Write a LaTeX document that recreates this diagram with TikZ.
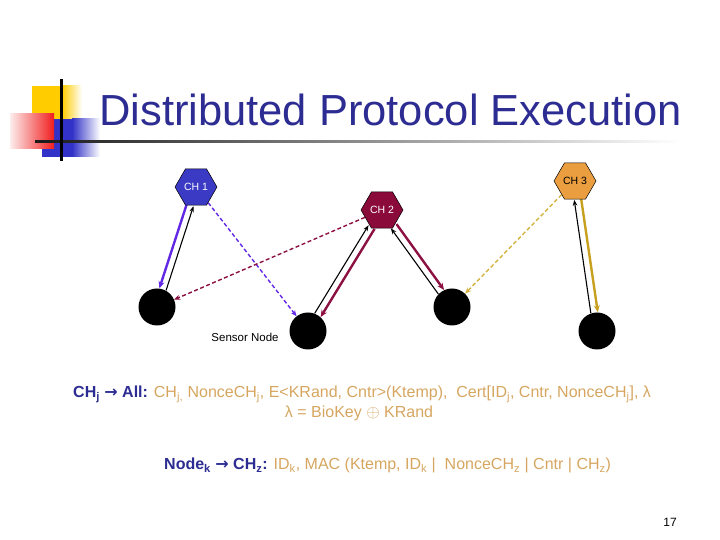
\documentclass[tikz,border=0pt]{standalone}
\usepackage{fontspec}
\setmainfont{Liberation Sans}
\newfontfamily\arrowfont{DejaVu Sans}
\usetikzlibrary{arrows.meta,shapes.geometric,calc}
\definecolor{titleblue}{RGB}{44,44,146}
\definecolor{goldtext}{RGB}{214,166,96}
\definecolor{chone}{RGB}{58,58,196}
\definecolor{chtwo}{RGB}{138,10,58}
\definecolor{chthree}{RGB}{234,158,64}
\definecolor{violetline}{RGB}{98,40,228}
\definecolor{maroonline}{RGB}{140,16,66}
\definecolor{goldline}{RGB}{200,160,32}
\definecolor{goldlight}{RGB}{212,178,64}
\definecolor{logoyellow}{RGB}{255,204,0}
\definecolor{logoblue}{RGB}{50,50,200}
\definecolor{logored}{RGB}{240,30,30}
\newcommand\bigarrow{{\arrowfont\bfseries →}}
\pgfdeclarelayer{bg}
\pgfsetlayers{bg,main}
\begin{document}
\begin{tikzpicture}[x=1pt,y=1pt,
  hexnode/.style={regular polygon, regular polygon sides=6, minimum size=42pt, inner sep=0pt,
    draw=black, line width=0.5pt, font=\fontsize{10.5}{12}\selectfont},
  sensor/.style={circle, fill=black, minimum size=37pt, inner sep=0pt},
  thickarrow/.style={line width=2.4pt, -{Stealth[length=7pt,width=6pt]}},
  thinarrow/.style={line width=1.1pt, black, -{Stealth[length=6pt,width=4.5pt]}},
  dasharrow/.style={line width=1.4pt, dash pattern=on 4pt off 2.5pt, -{Stealth[length=6pt,width=5pt]}},
  bodytext/.style={inner sep=0pt, font=\fontsize{16}{19}\selectfont},
]
\useasboundingbox (0,0) rectangle (720,540);

% logo
\fill[logoyellow] (32,421) rectangle (62,454);
\shade[left color=logoyellow, right color=white] (62,421) rectangle (82,454);
\fill[logoblue] (42,383) rectangle (72,421);
\shade[left color=logoblue, right color=white] (72,383) rectangle (100,421);
\shade[left color=logored!8, right color=logored] (10,391) rectangle (54,426);
\shade[left color=black!90, right color=white] (35,397) rectangle (680,399.5);
\fill[black] (60,379) rectangle (62.5,461);

% title
\node[anchor=base west, inner sep=0pt, text=titleblue, font=\fontsize{43.5}{50}\selectfont]
  (title) at (99,414) {Distributed Protocol Execution};

% cluster heads and sensor nodes
\node[hexnode, fill=chone, text=white] (CH1) at (196,353) {CH 1};
\node[hexnode, fill=chtwo, text=white] (CH2) at (382,330) {CH 2};
\node[hexnode, fill=chthree, text=black] (CH3) at (575,359) {CH 3};
\node[sensor] (S1) at (157,233) {};
\node[sensor] (S2) at (308,209) {};
\node[sensor] (S3) at (452,233) {};
\node[sensor] (S4) at (597,209) {};
\node[inner sep=0pt, font=\fontsize{11.5}{13}\selectfont] (lab) at (245,203) {Sensor Node};

\begin{pgfonlayer}{bg}
% CH1 <-> S1
\draw[thickarrow, violetline, shorten <=19pt, shorten >=18.5pt]
  ($(CH1)!3.5pt!-90:(S1)$) -- ($(S1)!3.5pt!90:(CH1)$);
\draw[thinarrow, shorten <=18.5pt, shorten >=19pt]
  ($(S1)!3.5pt!-90:(CH1)$) -- ($(CH1)!3.5pt!90:(S1)$);
% CH2 <-> S2
\draw[thickarrow, maroonline, shorten <=20pt, shorten >=18.5pt]
  ($(CH2)!3.5pt!90:(S2)$) -- ($(S2)!3.5pt!-90:(CH2)$);
\draw[thinarrow, shorten <=18.5pt, shorten >=20pt]
  ($(S2)!3.5pt!90:(CH2)$) -- ($(CH2)!3.5pt!-90:(S2)$);
% CH2 <-> S3
\draw[thickarrow, maroonline, shorten <=20pt, shorten >=18.5pt]
  ($(CH2)!3.5pt!90:(S3)$) -- ($(S3)!3.5pt!-90:(CH2)$);
\draw[thinarrow, shorten <=18.5pt, shorten >=20pt]
  ($(S3)!3.5pt!90:(CH2)$) -- ($(CH2)!3.5pt!-90:(S3)$);
% CH3 <-> S4
\draw[thickarrow, goldline, shorten <=18.5pt, shorten >=18.5pt]
  ($(CH3)!3.5pt!90:(S4)$) -- ($(S4)!3.5pt!-90:(CH3)$);
\draw[thinarrow, shorten <=18.5pt, shorten >=18.5pt]
  ($(S4)!3.5pt!90:(CH3)$) -- ($(CH3)!3.5pt!-90:(S4)$);
% dashed broadcasts
\draw[dasharrow, violetline] (CH1) -- (S2);
\draw[dasharrow, maroonline] (CH2) -- (S1);
\draw[dasharrow, goldlight] (CH3) -- (S3);
\end{pgfonlayer}

% message texts
\node[bodytext, anchor=base west] (msg1) at (73,142)
  {\textcolor{titleblue}{\bfseries CH\textsubscript{j} \bigarrow{} All:} \textcolor{goldtext}{CH\textsubscript{j,} NonceCH\textsubscript{j}, E<KRand, Cntr>(Ktemp),\ \ Cert[ID\textsubscript{j}, Cntr, NonceCH\textsubscript{j}], λ}};
\node[bodytext, anchor=base, text=goldtext] (msg2) at (359,122)
  {λ = BioKey $\oplus$ KRand};
\node[bodytext, anchor=base west] (msg3) at (164,70)
  {\textcolor{titleblue}{\bfseries Node\textsubscript{k} \bigarrow{} CH\textsubscript{z}:} \textcolor{goldtext}{ID\textsubscript{k}, MAC (Ktemp, ID\textsubscript{k} |\ \ NonceCH\textsubscript{z} | Cntr | CH\textsubscript{z})}};

% page number
\node[inner sep=0pt, font=\fontsize{12}{14}\selectfont] (pnum) at (670,18) {17};
\end{tikzpicture}
\end{document}
